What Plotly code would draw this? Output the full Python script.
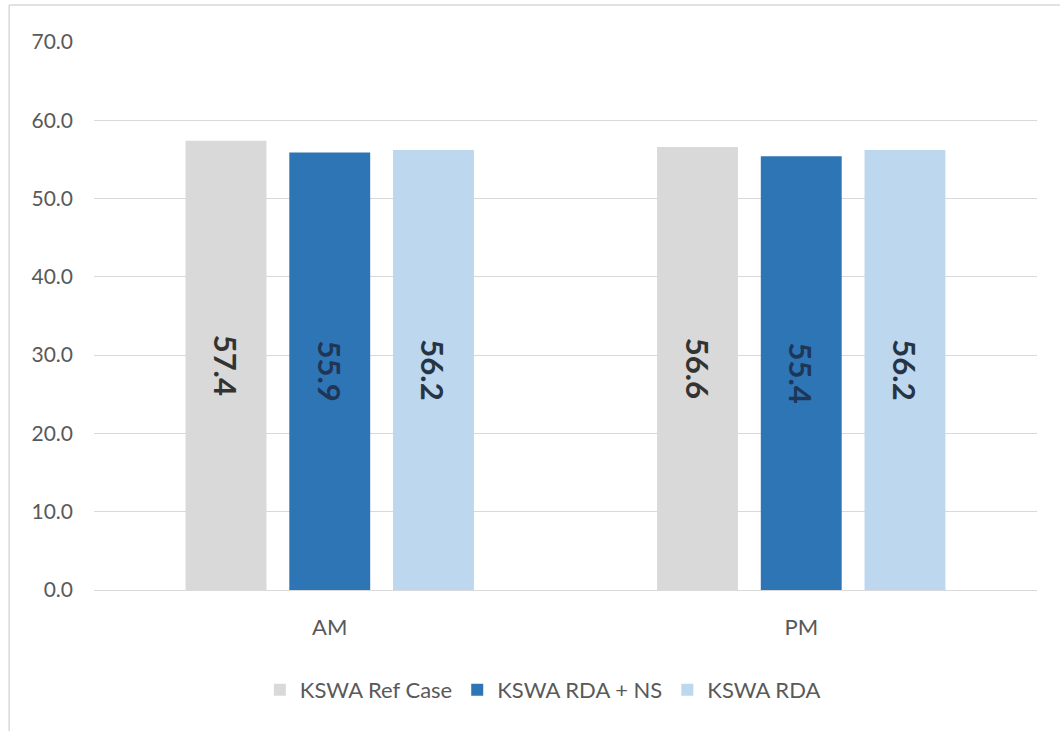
import plotly.graph_objects as go

categories = ["AM", "PM"]
series_names = ["KSWA Ref Case", "KSWA RDA + NS", "KSWA RDA"]
ref_case = [57.4, 56.6]
rda_ns = [55.9, 55.4]
rda = [56.2, 56.2]
colors = ["#d9d9d9", "#2e75b6", "#bdd7ee"]
text_colors = ["#333333", "#1f3656", "#263445"]

FONT = "Lato, Open Sans, sans-serif"

fig = go.Figure()
for name, vals, c, tc in zip(series_names, [ref_case, rda_ns, rda], colors, text_colors):
    fig.add_trace(go.Bar(
        x=categories, y=vals, name=name, marker=dict(color=c, line=dict(width=0)),
        text=[f"{v:.1f}" for v in vals], textposition="inside", insidetextanchor="middle",
        textangle=90, textfont=dict(family=FONT, size=31, color=tc),
        texttemplate="<b>%{text}</b>", hoverinfo="skip",
    ))

fig.update_layout(
    width=1060, height=731,
    margin=dict(l=94, r=23, t=42, b=141),
    paper_bgcolor="white", plot_bgcolor="white",
    barmode="group", bargap=0.34, bargroupgap=0.22,
    font=dict(family=FONT, size=22, color="#595959"),
    showlegend=True,
    legend=dict(orientation="h", x=0.476, xanchor="center", y=-0.1825, yanchor="middle",
                font=dict(size=22, color="#595959"), traceorder="normal"),
    xaxis=dict(showgrid=False, showline=False, ticks="", ticklabelstandoff=22,
               tickfont=dict(size=22, color="#595959")),
    yaxis=dict(range=[0, 70], dtick=10, tickformat=".1f", showgrid=True, gridcolor="#d9d9d9",
               gridwidth=1, zeroline=True, zerolinecolor="#d9d9d9", zerolinewidth=1,
               showline=False, ticks="", ticklabelstandoff=20,
               tickfont=dict(size=21, color="#595959")),
    shapes=[
        dict(type="line", xref="paper", yref="paper", x0=-0.09, x1=1.03, y0=1.0675, y1=1.0675,
             line=dict(color="#d9d9d9", width=1.5)),
        dict(type="line", xref="paper", yref="paper", x0=-0.09, x1=-0.09, y0=-0.26, y1=1.0675,
             line=dict(color="#d9d9d9", width=1.5)),
    ],
)

fig.write_html("out.html")
